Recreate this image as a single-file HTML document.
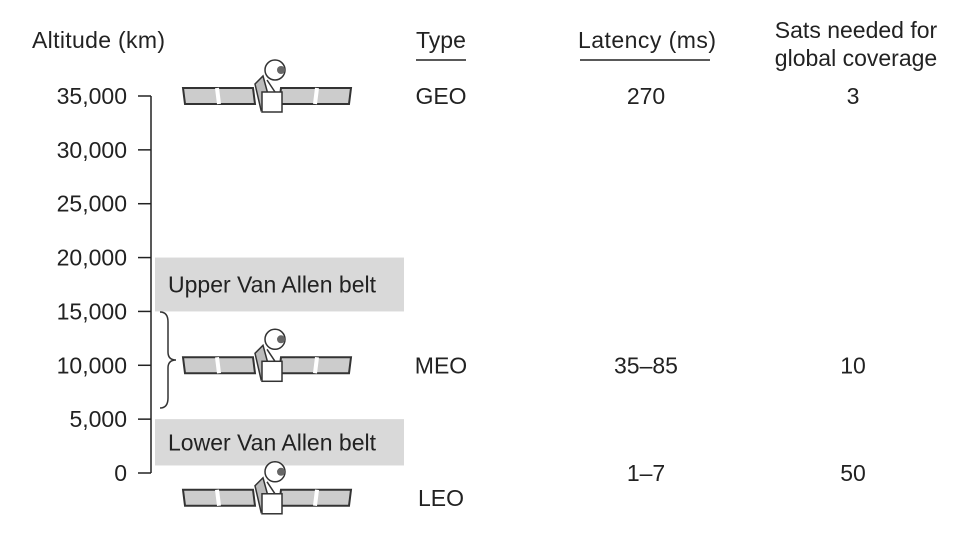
<!DOCTYPE html>
<html><head><meta charset="utf-8"><style>
body{margin:0;background:#fff;}
svg text{font-family:"Liberation Sans",Arial,sans-serif;fill:#222;}
</style></head><body>
<svg width="975" height="536" viewBox="0 0 975 536">
<defs>
<g id="sat">
 <polygon points="-84,-8 -14,-8 -12,8 -82,8" fill="#ccc" stroke="#333" stroke-width="2"/>
 <line x1="-50" y1="-8" x2="-48" y2="8" stroke="#fff" stroke-width="4"/>
 <polygon points="84,-8 14,-8 12,8 82,8" fill="#ccc" stroke="#333" stroke-width="2"/>
 <line x1="50" y1="-8" x2="48" y2="8" stroke="#fff" stroke-width="4"/>
 <polygon points="-12,-12 -4,-20 2,2 -6,14" fill="#bbb" stroke="#333" stroke-width="1.5"/>
 <rect x="-5" y="-4" width="20" height="20" fill="#fff" stroke="#333" stroke-width="1.5"/>
 <circle cx="8" cy="-26" r="10" fill="#fff" stroke="#333" stroke-width="1.5"/>
 <circle cx="14" cy="-26" r="4" fill="#666"/>
 <line x1="0" y1="-16" x2="8" y2="-4" stroke="#333" stroke-width="1.5"/>
</g>
</defs>
<g id="bands"></g>
<g id="axis"></g>
<text x="32" y="48" font-size="23" textLength="133">Altitude (km)</text>
<text x="416" y="48" font-size="23">Type</text>
<line x1="416" y1="60" x2="466" y2="60" stroke="#222" stroke-width="1.5"/>
<text x="578" y="48" font-size="23" textLength="138">Latency (ms)</text>
<line x1="580" y1="60" x2="710" y2="60" stroke="#222" stroke-width="1.5"/>
<text x="856" y="38" font-size="23" text-anchor="middle">Sats needed for</text>
<text x="856" y="66" font-size="23" text-anchor="middle">global coverage</text>
<path d="M160,312 Q168,312 168,322 L168,352 Q168,360 176,360 Q168,360 168,368 L168,398 Q168,408 160,408" fill="none" stroke="#333" stroke-width="1.5"/>
<g id="rows"></g>
</svg>
<script>
const tickValues=[0,5000,10000,15000,20000,25000,30000,35000];
const tickLabels=["0","5,000","10,000","15,000","20,000","25,000","30,000","35,000"];
const bandNames=["Upper Van Allen belt","Lower Van Allen belt"];
const bandTop=[20000,5000];
const bandBottom=[15000,700];
const orbitTypes=["GEO","MEO","LEO"];
const orbitAlt=[35000,10000,-2300];
const latencies=["270","35–85","1–7"];
const satsNeeded=["3","10","50"];
const valueAlt=[35000,10000,0];
const NS="http://www.w3.org/2000/svg";
const FS=23;
function y(v){return 473-v*(377/35000);}
function mk(tag,attrs,parent){const e=document.createElementNS(NS,tag);for(const k in attrs)e.setAttribute(k,attrs[k]);parent.appendChild(e);return e;}
const ax=document.getElementById('axis');
let l=mk('line',{x1:151,y1:y(35000),x2:151,y2:y(0),stroke:'#222','stroke-width':1.5},ax);


tickValues.forEach((v,i)=>{
 const t=mk('line',{x1:138,y1:y(v),x2:151,y2:y(v),stroke:'#222','stroke-width':1.5},ax);
 
 
 const tx=mk('text',{x:127,y:y(v)+8,'font-size':FS,'text-anchor':'end'},ax);
 tx.textContent=tickLabels[i];
 
 
});
const bg=document.getElementById('bands');
bandNames.forEach((n,i)=>{
 const r=mk('rect',{x:155,y:y(bandTop[i]),width:249,height:y(bandBottom[i])-y(bandTop[i]),fill:'#d9d9d9'},bg);
 
 
 const t=mk('text',{x:168,y:(y(bandTop[i])+y(bandBottom[i]))/2+8,'font-size':FS},bg);
 t.textContent=n;
 
 
});
const rows=document.getElementById('rows');
orbitTypes.forEach((n,i)=>{
 const u=mk('use',{href:'#sat',transform:`translate(267,${y(orbitAlt[i])})`},rows);
 
 
 const t=mk('text',{x:441,y:y(orbitAlt[i])+8,'font-size':FS,'text-anchor':'middle'},rows);
 t.textContent=n;
 
 
 const a=mk('text',{x:646,y:y(valueAlt[i])+8,'font-size':FS,'text-anchor':'middle'},rows);
 a.textContent=latencies[i];
 
 
 const b=mk('text',{x:853,y:y(valueAlt[i])+8,'font-size':FS,'text-anchor':'middle'},rows);
 b.textContent=satsNeeded[i];
 
 
});
</script>
</body></html>
